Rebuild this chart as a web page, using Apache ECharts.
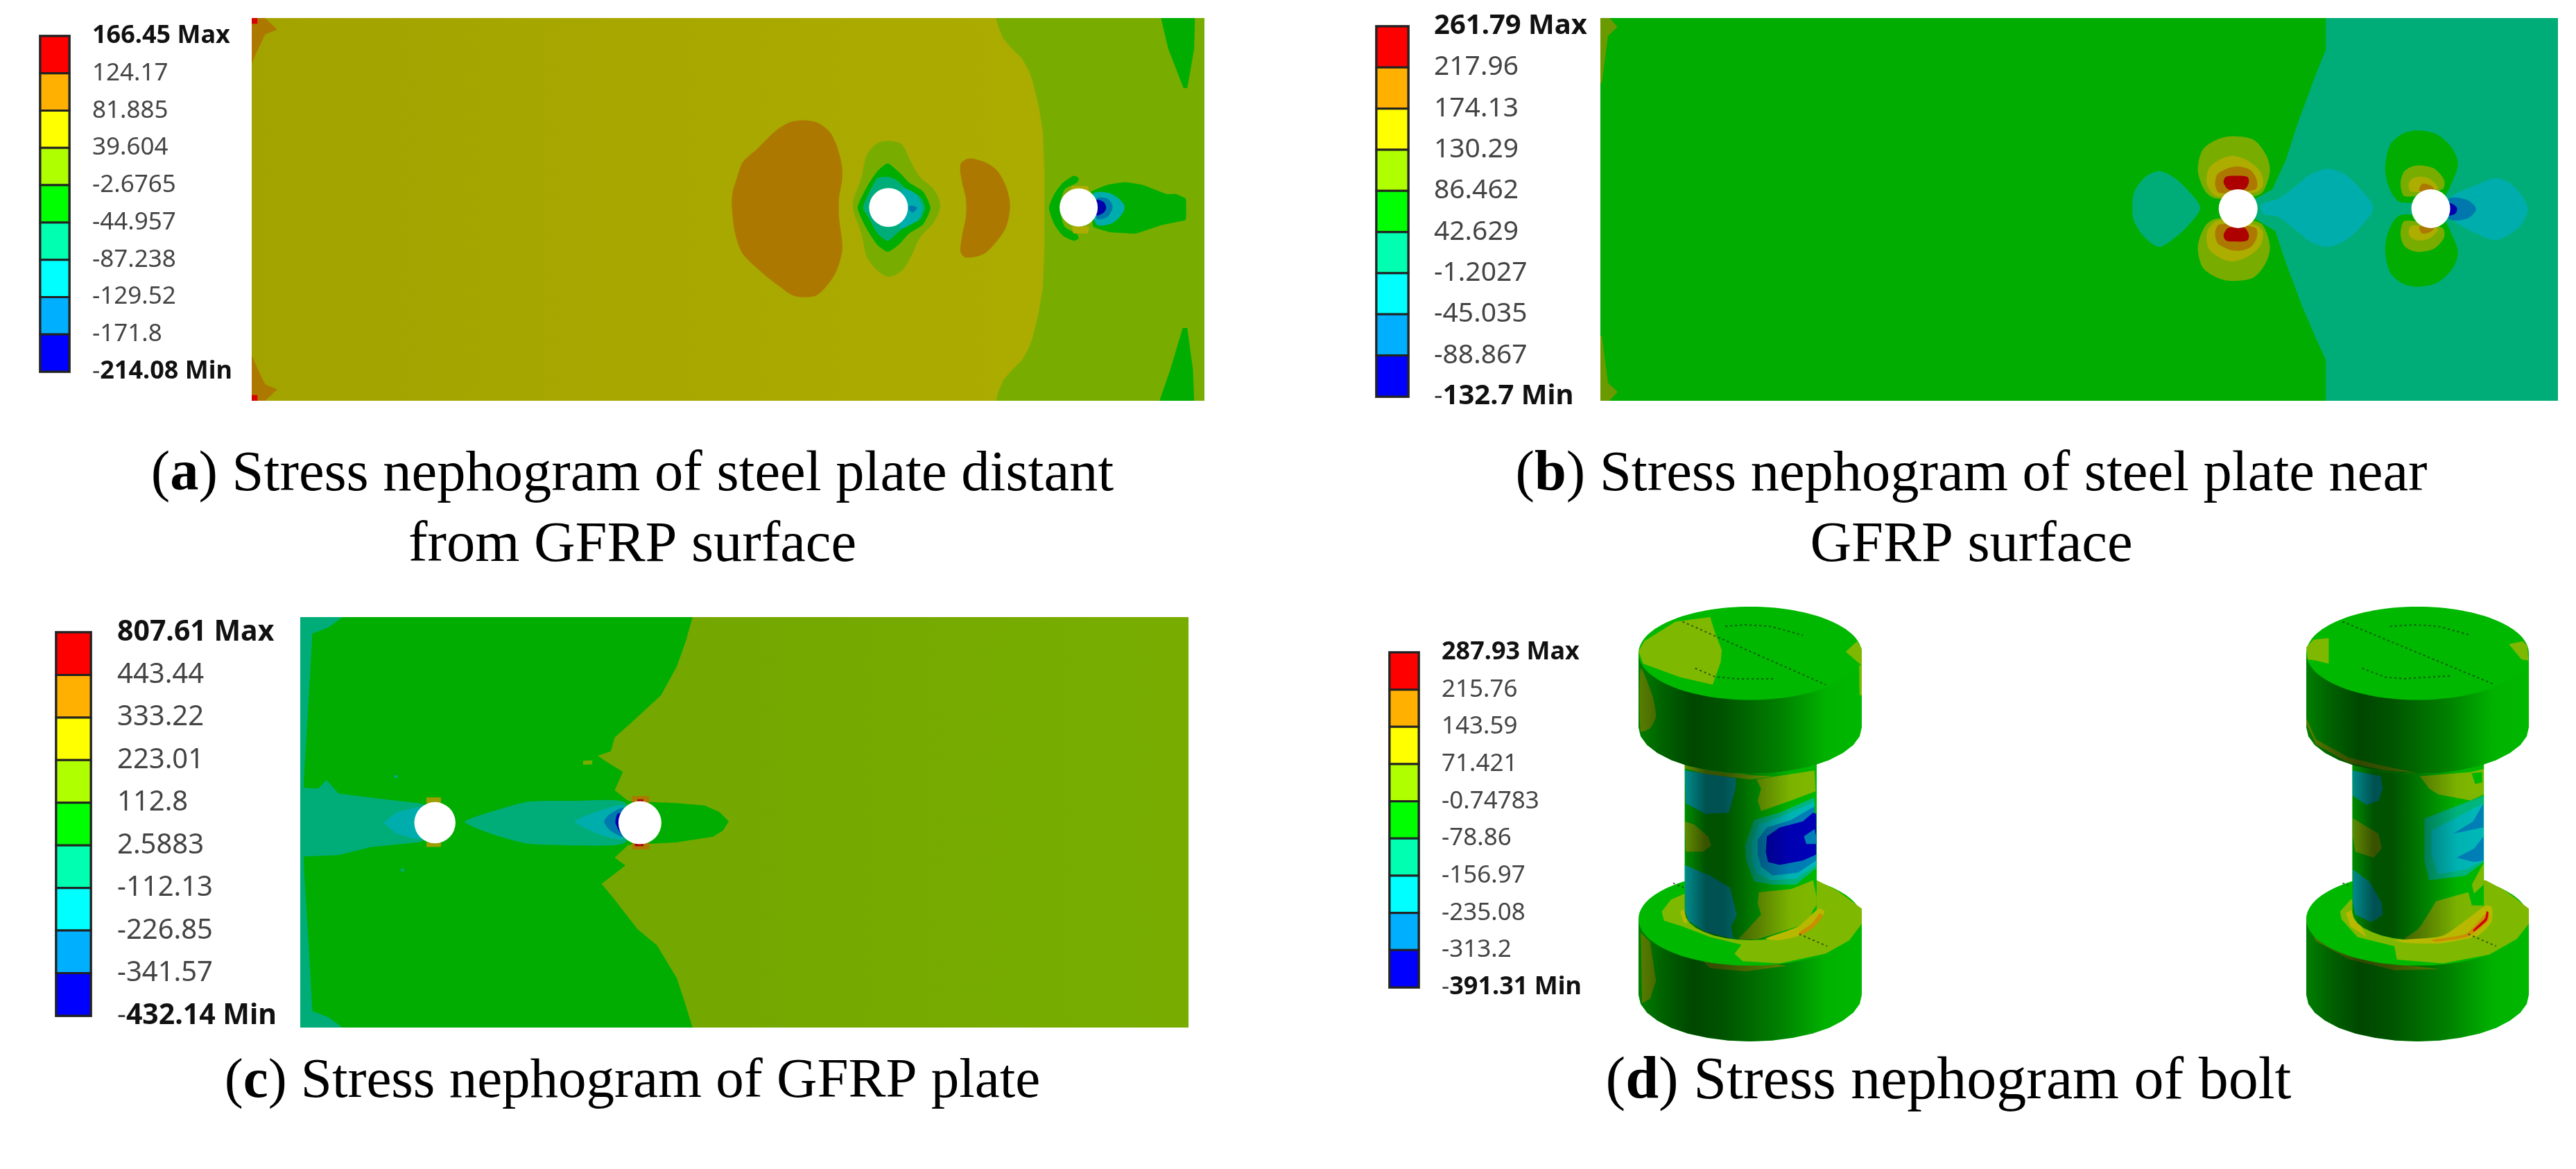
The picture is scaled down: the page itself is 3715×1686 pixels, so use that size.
<!DOCTYPE html>
<html>
<head>
<meta charset="utf-8">
<title>Stress nephograms</title>
<script src="https://cdn.jsdelivr.net/npm/echarts@6/dist/echarts.min.js"></script>
<style>
  html, body { margin: 0; padding: 0; background: #fff; }
  #chart { width: 3715px; height: 1686px; }
</style>
</head>
<body>
<div id="chart"></div>
<script>
// legend bands, top to bottom
const bandNames = ['red', 'orange', 'yellow', 'lime', 'green', 'teal', 'cyan', 'sky', 'blue'];
const bandRgb = {
  red: [255, 0, 0], orange: [255, 176, 0], yellow: [255, 255, 0], lime: [176, 255, 0], green: [0, 255, 0],
  teal: [0, 255, 176], cyan: [0, 255, 255], sky: [0, 176, 255], blue: [0, 0, 255]
};

// legend tick labels
const ticksA = ['166.45 Max', '124.17', '81.885', '39.604', '-2.6765', '-44.957', '-87.238', '-129.52', '-171.8', '-214.08 Min'];
const ticksB = ['261.79 Max', '217.96', '174.13', '130.29', '86.462', '42.629', '-1.2027', '-45.035', '-88.867', '-132.7 Min'];
const ticksC = ['807.61 Max', '443.44', '333.22', '223.01', '112.8', '2.5883', '-112.13', '-226.85', '-341.57', '-432.14 Min'];
const ticksD = ['287.93 Max', '215.76', '143.59', '71.421', '-0.74783', '-78.86', '-156.97', '-235.08', '-313.2', '-391.31 Min'];

// contour outlines on the plates, plate is 250 x 100
const plate = [[0, 0], [250, 0], [250, 100], [0, 100]];

// (a) steel plate distant from GFRP surface
const aRightLime = [[195.3, 0], [196, 2.5], [197.2, 5.4], [199.5, 8], [202, 10.4], [203.8, 13.5], [205, 16.8], [206.5, 23], [207.6, 29.7], [208, 40], [208, 60], [207.6, 70.3], [206.5, 77], [205, 83.2], [203.8, 86.5], [202, 89.6], [199.5, 92], [197.2, 94.6], [196, 97.5], [195.3, 100], [250, 100], [250, 0]];
const aTipTop = [[238.6, 0], [247.5, 0], [247.3, 8], [245.5, 18.3], [244.5, 18.3], [240.5, 8]];
const aTipBottom = [[238.2, 100], [247.3, 100], [247, 92], [245.5, 81], [244.3, 81], [241, 92]];
const aCornerTop = [[0, 0], [3.5, 0], [6.7, 3], [3.5, 4.3], [0.8, 10], [0, 12]];
const aCornerBottom = [[0, 100], [3.5, 100], [6.7, 97], [3.5, 95.7], [0.8, 90], [0, 88]];
const aRedTop = [[0, 0], [1.5, 0], [1.5, 1.5], [0, 1.5]];
const aRedBottom = [[0, 100], [1.5, 100], [1.5, 98.5], [0, 98.5]];
const aLobeBig = [[144.7, 26.7], [148.4, 27.3], [151.6, 29.7], [153.5, 33.3], [154.9, 38.8], [154.9, 42.4], [154.1, 47.2], [154.1, 52], [154.9, 58.1], [154.9, 61.1], [153.5, 66], [151.2, 69.6], [147.9, 72.6], [142.3, 72.6], [138.2, 69.9], [134, 66.6], [128.9, 61.7], [127, 56.9], [126.1, 50.8], [126.1, 46], [127.5, 41.2], [128.9, 37.6], [132.6, 34.2], [137.2, 29.7], [141, 27.3]];
const aLobeSmall = [[188.3, 36.7], [192.9, 37.9], [195.7, 40], [198, 44.2], [199, 49], [198, 54.5], [195.7, 58.1], [192, 61.7], [187.4, 62.6], [186, 61.1], [186.4, 56.9], [187.4, 52], [187.4, 47.2], [186.4, 43], [186, 38.2]];
const aHole1Lime = [[167.4, 32.1], [170.6, 33], [173, 37.6], [175.3, 41.5], [179, 44.8], [180.7, 49], [179, 53.3], [175.3, 57.5], [173, 62.3], [170.6, 66], [167.2, 67.6], [164.2, 66], [161.4, 62.3], [160, 56.3], [157.7, 49], [160, 41.8], [161.4, 35.8], [164.2, 32.7]];
const aHole1Green = [[166.9, 38], [170.2, 40.6], [172.5, 43], [176.2, 45.4], [178.1, 49.6], [176.2, 53.9], [172.5, 56.3], [169.7, 59.3], [166.9, 61.1], [164.2, 59.3], [161.4, 55.1], [159, 49.6], [161.4, 44.2], [164.2, 40]];
const aHole1Teal = [[164.2, 41.8], [166.9, 41.5], [169.3, 42.4], [171.6, 44.5], [175.3, 46.6], [176.7, 49.6], [175.3, 52.7], [171.6, 54.5], [169.3, 56.3], [166.9, 58.2], [164.2, 56.3], [161.8, 52], [160.4, 49.6], [161.8, 46]];
const aHole1Cyan = [[170.6, 44.8], [173.9, 45.7], [175.8, 49], [175.3, 52], [172.5, 54.2], [170.2, 54.8]];
const aHole1Sky = [[173, 49], [174.6, 49.6], [173.4, 50.8], [172.3, 49.6]];
const aHole2Crescent = [[215.7, 41.2], [217, 41.8], [216.6, 43], [213.3, 44.8], [212, 49.6], [213.3, 54.5], [216.6, 56.5], [217, 57.6], [215.7, 58.2], [212.9, 56.9], [210.6, 53.9], [209.2, 49.6], [210.6, 46], [212.9, 43]];
const aHole2Tail = [[220.3, 45.4], [224.5, 43.6], [229.1, 42.9], [233.8, 43.6], [240.2, 46], [242.6, 46], [245.1, 47.2], [245.1, 52.7], [242.6, 53.3], [238.4, 54.2], [231.9, 56.3], [225.4, 56], [220.8, 54.5]];
const aHole2Cyan = [[220.8, 46], [225.4, 45.9], [229.1, 49.3], [226.3, 53.3], [221.7, 53.9]];
const aHole2Sky = [[221.7, 47.2], [224.5, 47.2], [225.9, 49.3], [224.5, 52], [221.7, 52.4]];
const aHole2Blue = [[221.7, 47.5], [223.6, 48.1], [224.2, 49.6], [223.6, 50.8], [221.7, 51.5]];
const aHole2CapTop = [[215.2, 43.9], [219.4, 43.9], [219.8, 45.4], [214.8, 45.4]];
const aHole2CapBottom = [[215.2, 54.5], [219.8, 54.5], [219.4, 56.3], [215.6, 56.3]];
const aHoles = [[167.1, 49.5], [217, 49.5]];

// (b) steel plate near GFRP surface
const bRightTeal = [[189.4, 0], [189.4, 8.2], [186.8, 14.7], [181.9, 27.9], [179, 37], [175.4, 44.8], [170, 47.8], [170, 51.8], [176.2, 55.7], [179, 64.1], [183.1, 75], [186.5, 83], [189.4, 89.3], [189.4, 100], [250, 100], [250, 0]];
const bCornerTop = [[0, 0], [2.4, 0], [4.5, 2.3], [2, 4.7], [0.4, 17], [0, 17]];
const bCornerBottom = [[0, 100], [2.4, 100], [4.5, 97.7], [2, 95.3], [0.4, 83], [0, 83]];
const bLobeLeft = [[145.9, 40], [149.5, 41.5], [153.2, 44.8], [156.6, 49.6], [153.2, 54.5], [149.5, 57.8], [145.9, 59.8], [142.3, 57.5], [139.4, 53.3], [138.9, 49.6], [139.4, 45.4], [142.3, 41.5]];
const bLobeMid = [[189.9, 39.4], [194, 40.6], [198, 44.2], [201.7, 49.6], [198, 55.1], [194, 58.4], [189.9, 59.8], [185.9, 58.7], [181.9, 55.7], [177, 52], [173, 51.2], [172.6, 48.7], [177, 47.2], [181.9, 43.6], [185.9, 40.6]];
const bLobeRight = [[234, 41.9], [238.4, 43.9], [242.1, 49.6], [240, 54.5], [234, 58], [228.7, 56.3], [221.5, 51.8], [221.5, 47.2], [228.7, 43.6]];
const bH1LimeUp = [[164.9, 30.9], [170.5, 31.8], [173.8, 35.8], [174.8, 40], [173, 45.4], [170.5, 46.6], [160.9, 47.2], [158, 45.4], [156, 40], [157.2, 34.5], [160.9, 31.8]];
const bH1YellowUp = [[164.9, 36], [168.5, 37], [172.2, 40], [173, 43.6], [171.4, 45.4], [167.3, 46], [160.9, 46.6], [158.4, 43.6], [158.8, 39.4], [161.7, 37]];
const bH1OrangeUp = [[165.7, 38.8], [169.7, 39.7], [171.4, 42.4], [171, 44.8], [161.7, 45.7], [160.5, 43.6], [161.3, 40.6]];
const bH1RedUp = [[165.7, 41.2], [168.9, 41.5], [169.3, 43], [168.1, 44.8], [164, 44.8], [162.7, 43], [163.3, 41.5]];
const bH1LimeDown = [[164.9, 68.7], [170.5, 67.8], [173.8, 63.8], [174.8, 59.6], [173, 54.2], [170.5, 53], [160.9, 52.4], [158, 54.2], [156, 59.6], [157.2, 65.1], [160.9, 67.8]];
const bH1YellowDown = [[164.9, 63.6], [168.5, 62.6], [172.2, 59.6], [173, 56], [171.4, 54.2], [167.3, 53.6], [160.9, 53], [158.4, 56], [158.8, 60.2], [161.7, 62.6]];
const bH1OrangeDown = [[165.7, 60.8], [169.7, 59.9], [171.4, 57.2], [171, 54.8], [161.7, 53.9], [160.5, 56], [161.3, 59]];
const bH1RedDown = [[165.7, 58.4], [168.9, 58.1], [169.3, 56.6], [168.1, 54.8], [164, 54.8], [162.7, 56.6], [163.3, 58.1]];
const bH2GreenUp = [[213, 29.4], [218.2, 30.3], [222.3, 33.9], [223.9, 38.2], [222.3, 43], [219.8, 47], [208.9, 48.1], [206.1, 44.8], [204.9, 39.4], [206.1, 33.3], [209.3, 30.3]];
const bH2LimeUp = [[214.2, 38.5], [217.8, 39.4], [220.3, 42.4], [219.8, 44.8], [210.1, 46.6], [208.9, 43.6], [209.7, 40.3], [211.8, 38.8]];
const bH2YellowUp = [[213.8, 41.5], [216.6, 42.1], [218.6, 44.5], [211.8, 45.4], [211, 43.6], [211.8, 42.1]];
const bH2OrangeUp = [[214.6, 43.3], [217, 43.9], [217.8, 45.1], [213.8, 45.1]];
const bH2GreenDown = [[213, 70.2], [218.2, 69.3], [222.3, 65.7], [223.9, 61.4], [222.3, 56.6], [219.8, 52.6], [208.9, 51.5], [206.1, 54.8], [204.9, 60.2], [206.1, 66.3], [209.3, 69.3]];
const bH2LimeDown = [[214.2, 61.1], [217.8, 60.2], [220.3, 57.2], [219.8, 54.8], [210.1, 53], [208.9, 56], [209.7, 59.3], [211.8, 60.8]];
const bH2YellowDown = [[213.8, 58.1], [216.6, 57.5], [218.6, 55.1], [211.8, 54.2], [211, 56], [211.8, 57.5]];
const bH2OrangeDown = [[214.6, 56.3], [217, 55.7], [217.8, 54.5], [213.8, 54.5]];
const bH2Sky = [[221.5, 47.2], [226.3, 47.5], [228.6, 49.9], [226.3, 52.4], [221.5, 52.5]];
const bH2Blue = [[221.5, 48.4], [223.1, 49], [223.7, 49.9], [223.1, 51.2], [221.5, 51.5]];
const bHoles = [[166.5, 49.8], [216.8, 49.8]];

// (c) GFRP plate
const cGreen = [[0, 0], [110.4, 0], [108.6, 5.6], [106, 12], [101.5, 19.1], [93.7, 25.3], [88.5, 29.3], [87.4, 32.7], [83.7, 33.8], [86.7, 35.5], [90.8, 37.7], [88.5, 42.2], [92.3, 44.8], [105.7, 45.3], [113.9, 45.9], [118, 47.5], [120.6, 49.8], [119, 52], [116.2, 53.5], [105.7, 54.9], [92.3, 55.5], [88.5, 58.6], [91.5, 60.5], [84.8, 65], [87.8, 68.1], [94.9, 76], [100.4, 80], [106, 88], [108.2, 93.8], [110.4, 100], [0, 100]];
const cStrip = [[0, 0], [11.9, 0], [8, 2.5], [3.4, 4], [2.7, 15], [1, 40], [1, 60], [2.7, 85], [3.4, 96], [8, 97.5], [11.9, 100], [0, 100]];
const cWedge = [[0, 41.5], [5, 41.8], [7.4, 39.7], [10.8, 43], [20, 44], [33.2, 45.3], [36, 46], [36, 54], [33.2, 54.9], [20, 56], [10.8, 58], [5, 58.2], [0, 58.3]];
const cWedgeCyan = [[32.1, 46.5], [27, 47.6], [23.5, 50.1], [27, 52.7], [32.1, 54], [36, 54], [36, 46]];
const cLens = [[46.3, 49.9], [54.2, 47.3], [63.9, 45], [76.6, 44.8], [91.5, 45.2], [91.5, 54.9], [76.6, 55.6], [63.9, 55.2], [54.2, 52.9]];
const cLensCyan = [[90.8, 45.9], [84, 47.3], [77.3, 49.8], [84, 52.9], [90.8, 54]];
const cLensSky = [[90.8, 46.5], [87, 48.1], [85.5, 49.8], [87, 51.8], [90.8, 53.5]];
const cLensBlue = [[89.3, 47.9], [88.7, 50.1], [90, 52.4], [91.1, 52.4], [91.1, 47.9]];
const cH2CapTop = [[93.4, 43.6], [98.2, 43.6], [98.2, 45.5], [93.4, 45.5]];
const cH2RedTop = [[94.9, 44.4], [96.6, 44.4], [96.6, 45.5], [94.9, 45.5]];
const cH2CapBottom = [[93.4, 55], [98.2, 55], [98.2, 56.6], [93.4, 56.6]];
const cH2RedBottom = [[94.2, 55], [96.6, 55], [96.6, 55.8], [94.2, 55.8]];
const cH1CapTop = [[35.5, 43.9], [39.6, 43.9], [39.6, 45.4], [35.5, 45.4]];
const cH1CapBottom = [[35.5, 54.9], [39.6, 54.9], [39.6, 56], [35.5, 56]];
const cSpeck1 = [[79.6, 35], [82.2, 34.9], [82.2, 35.9], [79.6, 36]];
const cSpeck2 = [[26.4, 38.5], [27.4, 38.5], [27.4, 39.2], [26.4, 39.2]];
const cSpeck3 = [[28.3, 61.3], [29.3, 61.3], [29.3, 62], [28.3, 62]];
const cHoles = [[37.9, 50.1], [95.6, 50.1]];

// (d) bolts, head width is 100
const headSideUpper = [[0, 20.9], [100, 20.9], [100, 54], [99.05, 58.1], [96.2, 62], [91.55, 65.6], [85.35, 68.8], [77.8, 71.4], [69.15, 73.3], [59.75, 74.5], [50, 74.9], [40.25, 74.5], [30.85, 73.3], [22.2, 71.4], [14.65, 68.8], [8.45, 65.6], [3.8, 62], [0.95, 58.1], [0, 54]];
const headSideLower = [[0, 140], [100, 140], [100, 174], [99.05, 178.1], [96.2, 182], [91.55, 185.6], [85.35, 188.8], [77.8, 191.4], [69.15, 193.3], [59.75, 194.5], [50, 194.9], [40.25, 194.5], [30.85, 193.3], [22.2, 191.4], [14.65, 188.8], [8.45, 185.6], [3.8, 182], [0.95, 178.1], [0, 174]];
const shank = [[20.7, 60], [79.8, 60], [79.8, 137], [79.2, 139.4], [77.55, 141.8], [74.8, 144], [71.1, 145.8], [66.7, 147.4], [61.55, 148.6], [56, 149.3], [50.25, 149.5], [44.5, 149.3], [38.95, 148.6], [33.8, 147.4], [29.35, 145.8], [25.7, 144], [22.95, 141.8], [21.3, 139.4], [20.7, 137]];
const faceUpper = [50, 20.9, 50, 20.9];
const faceLower = [50, 140, 50, 20.9];

const d1FaceLimeLeft = [[0, 20], [2.6, 15.5], [16.6, 6.7], [32.1, 4.7], [34.2, 11.4], [37.3, 19.5], [36.8, 24.9], [33.2, 35], [18.7, 31.6], [2.1, 25.6]];
const d1FaceLimeRight = [[97.9, 15.5], [100, 18.9], [100, 26.3], [99, 25.6], [92.8, 20.2]];
const d1HeadEdgeRight = [[98.8, 26.3], [100, 26.3], [100, 39.7], [99, 39.7]];
const d1HeadPatch = [[1, 27.6], [6.2, 39.7], [7.8, 49.2], [5.2, 54.5], [1, 55.9]];
const d1Slot = [[19.7, 6.7], [83.9, 35]];
const d1ArcTop = [[38.9, 8.8], [47.6, 8.1], [59, 8.8], [73.6, 12.8]];
const d1ArcBottom = [[25.4, 27.6], [34.2, 31.4], [43.5, 32.3], [61.1, 32.3]];
const d1ShankTopLeft = [[20.7, 73.4], [43.5, 76.8], [43.5, 81.5], [40.4, 92.3], [30, 92.9], [21.2, 88.2]];
const d1ShankBottomLeft = [[20.7, 115.8], [32.1, 120.6], [41, 126], [44, 138], [41.5, 143.4], [42.5, 149], [30, 145.8], [22.5, 141], [20.9, 136.7]];
const d1ShankMidLeft = [[20.7, 96.3], [24.9, 97.6], [31.1, 103], [32.6, 107], [29, 109.8], [21.2, 109.8]];
const d1ShankTopRight = [[52.8, 77.4], [78.8, 73.4], [79.3, 82.8], [68.4, 86.9], [54.9, 91.6], [53.4, 86.9], [54.9, 81.5]];
const d1ShankStrip = [[20.7, 70], [30, 72], [50, 75.5], [60, 76], [50, 77.5], [30, 75], [20.7, 72.5]];
const d1RingTeal = [[47.7, 107], [51.8, 95.6], [63.2, 92.3], [78.8, 85.5], [79.6, 117.2], [70.5, 124.6], [60.1, 124.6], [51.8, 123.2], [48.2, 113.8]];
const d1RingCyan = [[50.8, 105.7], [53.9, 97.6], [63.2, 94.3], [78.8, 87.5], [79.6, 115.8], [70.5, 121.9], [59.1, 122.6], [52.8, 119.2], [50.8, 113.8]];
const d1RingSky = [[53.4, 104.4], [57.5, 99], [68.4, 95.6], [78.8, 89.6], [79.6, 113.8], [71.5, 119.2], [60, 120.5], [54.9, 116.5], [53.4, 111.1]];
const d1Core = [[57.5, 103], [63.2, 99], [73.6, 96.3], [78.2, 92.3], [79.6, 92.9], [79.6, 111.1], [73.6, 113.8], [63.2, 115.8], [58, 114.5], [57, 109.8]];
const d1CoreNotch = [[74.1, 103], [78.8, 99.7], [79.6, 103], [79.6, 106.4], [75.1, 106.4]];
const d1ShankBottomRight = [[53.9, 128], [68.4, 126.6], [78.2, 122.6], [79.7, 130], [79.7, 133.9], [78.2, 136], [75.6, 142], [52.8, 149.2], [44.6, 149.2], [54.9, 138], [53.4, 133]];
const d1CrackYellow = [[57, 148.8], [71.5, 143.4], [80.8, 135.3], [83.4, 136.7], [79.8, 142], [71.5, 147.6], [63.2, 149.5]];
const d1CrackOrange = [[72, 146.1], [77.7, 142], [81.3, 137.4], [82.4, 138.7], [78.8, 143.4], [72.5, 147.5]];
const d1LowerFaceLime = [[79.8, 122.6], [89.1, 127.3], [100, 135.4], [100, 142.1], [94.3, 149.7], [83.9, 155.5], [63.2, 159.9], [46.6, 158.9], [43, 155.6], [46.1, 151.5], [32.1, 148.1], [19.7, 143.4], [11.4, 140.7], [10.4, 136.7], [14.5, 131.3], [20.7, 128.6]];
const d1LowerFaceYellow = [[18.7, 136.7], [21.2, 135.4], [21.8, 142.1], [20.2, 141.4]];
const d1LowerStrip = [[24.9, 155], [32, 162], [48, 163.5], [66.3, 161], [48, 158], [32, 155]];
const d1LowerPatch = [[1, 146.1], [5.2, 150.2], [7.8, 167.7], [5.2, 175.8], [1.6, 177.8]];
const d1DashLower = [[72, 146.8], [84.5, 152.2]];
const d1DashLeft = [[15.5, 123.9], [20.2, 125.9]];

const d2FaceLimeLeft = [[0, 18.2], [3.3, 14.8], [10.1, 14.1], [10.1, 25.6], [4.4, 24.2], [0.7, 23.6]];
const d2FaceLimeRight = [[91, 16.8], [97.2, 15.5], [99.3, 17.5], [99.8, 24.2], [96.7, 23.6]];
const d2HeadStrip = [[0, 52.5], [4.4, 61.8], [19, 70], [35, 73.3], [50, 74.6], [35, 71.5], [19, 67.5], [4.4, 59.5], [0, 50]];
const d2Slot = [[16.3, 6.7], [84.8, 35]];
const d2ArcTop = [[37.6, 8.8], [49, 8.1], [59.3, 8.8], [73.9, 12.8]];
const d2ArcBottom = [[25.1, 27.6], [35.5, 31.6], [43.8, 32.3], [64.5, 31]];
const d2ShankTopLeft = [[20.7, 73.4], [33.4, 76], [34.4, 81.5], [32.4, 86.9], [27.2, 88.9], [20.9, 84.8]];
const d2ShankBottomLeft = [[21, 117.8], [28.2, 123.2], [33.9, 132.7], [34.4, 138], [29.3, 141.4], [22, 138], [20.9, 132.7]];
const d2ShankMidLeft = [[21, 94.9], [32.4, 101.7], [33.9, 108.4], [30.3, 112.5], [22, 109.8], [20.9, 103]];
const d2ShankTopRight = [[51, 76], [73.9, 74.1], [79.7, 72.7], [79.7, 84.2], [73.9, 86.9], [59.3, 84.2], [55.2, 81.5]];
const d2ShankTopGreen = [[74.3, 74.7], [79, 74.1], [79, 78.8], [75.9, 79.5]];
const d2PatchTeal = [[53.1, 95], [79.6, 84.8], [79.7, 114.5], [71.8, 120.5], [55.2, 122.6], [53.1, 113.8]];
const d2PatchCyan = [[56.2, 100.3], [79.6, 88.2], [79.7, 113.8], [71.8, 117.8], [59.3, 119.9], [56.2, 111.1]];
const d2StreakTop = [[66.1, 101.7], [74.9, 96.3], [79.6, 88.2], [79.6, 98.9], [72.9, 100.3]];
const d2StreakBottom = [[67.6, 112.5], [75.4, 108.4], [79.7, 103], [79.7, 113.8], [75.4, 114.5]];
const d2ShankBottomRight = [[52.1, 142.1], [58.3, 132], [72.8, 128], [74.4, 133.9], [79.7, 134], [79.7, 137.5], [76, 143], [66.6, 147], [50, 149.3], [44, 148.9], [50, 144.8]];
const d2ShankLimeSmall = [[74.4, 124.6], [79.6, 115.1], [79.7, 124.6], [75.4, 128.6]];
const d2LowerFaceLime = [[80.6, 122.6], [89.4, 127.3], [100, 135.4], [100, 142.1], [94.6, 149], [82.2, 156], [61.4, 159.9], [40.7, 158.2], [39.6, 152.2], [23, 148.1], [15.8, 140.1], [15.2, 136.7], [19.9, 131.3]];
const d2RingLeft = [[17.8, 137.4], [19.9, 143.4], [27.2, 148.1], [20.5, 136]];
const d2RingYellow = [[39.6, 149.5], [61.4, 147.5], [80.6, 134], [83.4, 134.7], [83.2, 141.4], [77, 147.5], [61.4, 150.8], [46, 150.8]];
const d2RingOrange = [[56.2, 149.5], [71.8, 146.6], [80.6, 137.7], [82.2, 137.2], [81.6, 141], [72.8, 147.8], [58.3, 150.2]];
const d2RingRed = [[74.9, 145], [80.3, 139.8], [81.1, 136.5], [81.8, 137], [81.1, 140.6], [75.4, 145.6]];
const d2LowerStrip = [[0, 141], [4.4, 150], [19, 158], [40, 163], [60, 162.5], [40, 160], [19, 155], [4.4, 147], [0, 138]];
const d2DashLower = [[72.8, 146.8], [85.3, 152.2]];
const d2DashLeft = [[16.3, 123.9], [18.9, 125]];

// shading across the cylinders, black alpha from left to right
const headShade = [[0, 0.5], [0.11, 0.62], [0.24, 0.72], [0.37, 0.68], [0.63, 0.5], [0.84, 0.3], [1, 0.28]];
const shankShade = [[0, 0.45], [0.16, 0.68], [0.3, 0.68], [0.55, 0.5], [0.8, 0.3], [1, 0.28]];

const PLATE = 0.68; // lighting of the flat plates
const FACE = 0.72; // lighting of the bolt end faces

const regionsA = [
  ['grad', 'yellow', [0.64, 0.68], plate],
  ['poly', 'lime', PLATE, aRightLime, 0],
  ['poly', 'green', PLATE, aTipTop, 0],
  ['poly', 'green', PLATE, aTipBottom, 0],
  ['poly', 'orange', PLATE, aCornerTop, 0],
  ['poly', 'orange', PLATE, aCornerBottom, 0],
  ['poly', 'red', 0.85, aRedTop, 0],
  ['poly', 'red', 0.85, aRedBottom, 0],
  ['poly', 'orange', PLATE, aLobeBig, 0.3],
  ['poly', 'orange', PLATE, aLobeSmall, 0.3],
  ['poly', 'lime', PLATE, aHole1Lime, 0.3],
  ['poly', 'green', PLATE, aHole1Green, 0.2],
  ['poly', 'teal', PLATE, aHole1Teal, 0.2],
  ['poly', 'cyan', PLATE, aHole1Cyan, 0.3],
  ['poly', 'sky', PLATE, aHole1Sky, 0.3],
  ['poly', 'green', PLATE, aHole2Crescent, 0.2],
  ['poly', 'green', PLATE, aHole2Tail, 0.1],
  ['poly', 'yellow', PLATE, aHole2CapTop, 0],
  ['poly', 'yellow', PLATE, aHole2CapBottom, 0],
  ['poly', 'cyan', PLATE, aHole2Cyan, 0.3],
  ['poly', 'sky', PLATE, aHole2Sky, 0.3],
  ['poly', 'blue', PLATE, aHole2Blue, 0.3],
  ['hole', aHoles[0], 5.1],
  ['hole', aHoles[1], 5]
];

const regionsB = [
  ['poly', 'green', PLATE, plate, 0],
  ['poly', 'teal', PLATE, bRightTeal, 0],
  ['poly', 'lime', 0.6, bCornerTop, 0],
  ['poly', 'lime', 0.6, bCornerBottom, 0],
  ['poly', 'teal', PLATE, bLobeLeft, 0.3],
  ['poly', 'cyan', PLATE, bLobeMid, 0.3],
  ['poly', 'cyan', PLATE, bLobeRight, 0.3],
  ['poly', 'lime', PLATE, bH1LimeUp, 0.3],
  ['poly', 'yellow', PLATE, bH1YellowUp, 0.3],
  ['poly', 'orange', PLATE, bH1OrangeUp, 0.3],
  ['poly', 'red', PLATE, bH1RedUp, 0.3],
  ['poly', 'lime', PLATE, bH1LimeDown, 0.3],
  ['poly', 'yellow', PLATE, bH1YellowDown, 0.3],
  ['poly', 'orange', PLATE, bH1OrangeDown, 0.3],
  ['poly', 'red', PLATE, bH1RedDown, 0.3],
  ['poly', 'green', PLATE, bH2GreenUp, 0.3],
  ['poly', 'lime', PLATE, bH2LimeUp, 0.3],
  ['poly', 'yellow', PLATE, bH2YellowUp, 0.3],
  ['poly', 'orange', PLATE, bH2OrangeUp, 0.3],
  ['poly', 'green', PLATE, bH2GreenDown, 0.3],
  ['poly', 'lime', PLATE, bH2LimeDown, 0.3],
  ['poly', 'yellow', PLATE, bH2YellowDown, 0.3],
  ['poly', 'orange', PLATE, bH2OrangeDown, 0.3],
  ['poly', 'sky', PLATE, bH2Sky, 0.3],
  ['poly', 'blue', PLATE, bH2Blue, 0.3],
  ['hole', bHoles[0], 5.07],
  ['hole', bHoles[1], 5.07]
];

const regionsC = [
  ['grad', 'lime', [0.64, 0.68], plate],
  ['poly', 'green', PLATE, cGreen, 0],
  ['poly', 'teal', PLATE, cStrip, 0],
  ['poly', 'teal', PLATE, cWedge, 0],
  ['poly', 'cyan', PLATE, cWedgeCyan, 0],
  ['poly', 'teal', PLATE, cLens, 0.2],
  ['poly', 'cyan', PLATE, cLensCyan, 0.2],
  ['poly', 'sky', PLATE, cLensSky, 0.2],
  ['poly', 'blue', PLATE, cLensBlue, 0.2],
  ['poly', 'orange', PLATE, cH2CapTop, 0],
  ['poly', 'red', PLATE, cH2RedTop, 0],
  ['poly', 'orange', PLATE, cH2CapBottom, 0],
  ['poly', 'red', PLATE, cH2RedBottom, 0],
  ['poly', 'yellow', 0.62, cH1CapTop, 0],
  ['poly', 'yellow', 0.62, cH1CapBottom, 0],
  ['poly', 'lime', PLATE, cSpeck1, 0],
  ['poly', 'teal', PLATE, cSpeck2, 0],
  ['poly', 'teal', PLATE, cSpeck3, 0],
  ['hole', cHoles[0], 5.8],
  ['hole', cHoles[1], 6.05]
];

const regionsD1 = [
  ['poly', 'green', 1, headSideLower, 0],
  ['poly', 'lime', 1, d1LowerStrip, 0],
  ['poly', 'lime', 1, d1LowerPatch, 0],
  ['shade', headShade, headSideLower],
  ['oval', 'green', FACE, faceLower],
  ['poly', 'lime', FACE, d1LowerFaceLime, 0],
  ['poly', 'yellow', FACE, d1LowerFaceYellow, 0],
  ['poly', 'green', 1, shank, 0],
  ['poly', 'cyan', 1, d1ShankTopLeft, 0],
  ['poly', 'cyan', 1, d1ShankBottomLeft, 0],
  ['poly', 'lime', 1, d1ShankMidLeft, 0],
  ['poly', 'lime', 1, d1ShankTopRight, 0],
  ['poly', 'lime', 1, d1ShankBottomRight, 0],
  ['poly', 'teal', 1, d1RingTeal, 0],
  ['poly', 'cyan', 1, d1RingCyan, 0],
  ['poly', 'sky', 1, d1RingSky, 0],
  ['poly', 'blue', 1, d1Core, 0],
  ['poly', 'sky', 1, d1CoreNotch, 0],
  ['poly', 'lime', 1, d1ShankStrip, 0],
  ['shade', shankShade, shank],
  ['poly', 'yellow', 0.72, d1CrackYellow, 0.2],
  ['poly', 'orange', 0.8, d1CrackOrange, 0.2],
  ['poly', 'green', 1, headSideUpper, 0],
  ['poly', 'lime', 1, d1HeadPatch, 0.2],
  ['shade', headShade, headSideUpper],
  ['oval', 'green', FACE, faceUpper],
  ['poly', 'lime', FACE, d1FaceLimeLeft, 0],
  ['poly', 'lime', FACE, d1FaceLimeRight, 0],
  ['poly', 'lime', FACE, d1HeadEdgeRight, 0],
  ['dash', d1Slot],
  ['dash', d1ArcTop],
  ['dash', d1ArcBottom],
  ['dash', d1DashLower],
  ['dash', d1DashLeft]
];

const regionsD2 = [
  ['poly', 'green', 1, headSideLower, 0],
  ['poly', 'lime', 1, d2LowerStrip, 0],
  ['shade', headShade, headSideLower],
  ['oval', 'green', FACE, faceLower],
  ['poly', 'lime', FACE, d2LowerFaceLime, 0],
  ['poly', 'yellow', FACE, d2RingLeft, 0],
  ['poly', 'green', 1, shank, 0],
  ['poly', 'cyan', 1, d2ShankTopLeft, 0],
  ['poly', 'cyan', 1, d2ShankBottomLeft, 0],
  ['poly', 'lime', 1, d2ShankMidLeft, 0],
  ['poly', 'lime', 1, d2ShankTopRight, 0],
  ['poly', 'green', 1, d2ShankTopGreen, 0],
  ['poly', 'teal', 1, d2PatchTeal, 0],
  ['poly', 'cyan', 1, d2PatchCyan, 0],
  ['poly', 'sky', 1, d2StreakTop, 0],
  ['poly', 'sky', 1, d2StreakBottom, 0],
  ['poly', 'lime', 1, d2ShankBottomRight, 0],
  ['poly', 'lime', 1, d2ShankLimeSmall, 0],
  ['shade', shankShade, shank],
  ['poly', 'yellow', 0.72, d2RingYellow, 0.2],
  ['poly', 'orange', 0.8, d2RingOrange, 0.2],
  ['poly', 'red', 0.8, d2RingRed, 0.2],
  ['poly', 'green', 1, headSideUpper, 0],
  ['poly', 'lime', 1, d2HeadStrip, 0],
  ['shade', headShade, headSideUpper],
  ['oval', 'green', FACE, faceUpper],
  ['poly', 'lime', FACE, d2FaceLimeLeft, 0],
  ['poly', 'lime', FACE, d2FaceLimeRight, 0],
  ['dash', d2Slot],
  ['dash', d2ArcTop],
  ['dash', d2ArcBottom],
  ['dash', d2DashLower],
  ['dash', d2DashLeft]
];

// captions
const captions = [
  { text: '({b|a}) Stress nephogram of steel plate distant\nfrom GFRP surface', x: 907, y: 629, size: 82.5 },
  { text: '({b|b}) Stress nephogram of steel plate near\nGFRP surface', x: 2838, y: 629, size: 82.5 },
  { text: '({b|c}) Stress nephogram of GFRP plate', x: 907, y: 1505, size: 81 },
  { text: '({b|d}) Stress nephogram of bolt', x: 2805, y: 1505, size: 86 }
];

const shadeColor = (band, k) => {
  const c = bandRgb[band];
  return 'rgb(' + Math.round(c[0] * k) + ',' + Math.round(c[1] * k) + ',' + Math.round(c[2] * k) + ')';
};

// draws one contour region through the axes of its grid
const renderRegion = (list) => (params, api) => {
  const r = list[api.value(0)];
  const kind = r[0];
  if (kind === 'hole') {
    const c = api.coord(r[1]);
    return { type: 'circle', shape: { cx: c[0], cy: c[1], r: api.size([r[2], 0])[0] }, style: { fill: '#fff' } };
  }
  if (kind === 'oval') {
    const c = api.coord([r[3][0], r[3][1]]);
    const s = api.size([r[3][2], r[3][3]]);
    return { type: 'ellipse', shape: { cx: c[0], cy: c[1], rx: s[0], ry: s[1] }, style: { fill: shadeColor(r[1], r[2]) } };
  }
  if (kind === 'dash') {
    return {
      type: 'polyline',
      shape: { points: r[1].map((p) => api.coord(p)) },
      style: { fill: null, stroke: 'rgba(20,50,10,0.7)', lineWidth: 2, lineDash: [3, 4] }
    };
  }
  if (kind === 'grad') {
    return {
      type: 'polygon',
      shape: { points: r[3].map((p) => api.coord(p)) },
      style: {
        fill: new echarts.graphic.LinearGradient(0, 0, 1, 0, [
          { offset: 0, color: shadeColor(r[1], r[2][0]) },
          { offset: 1, color: shadeColor(r[1], r[2][1]) }
        ])
      }
    };
  }
  if (kind === 'shade') {
    return {
      type: 'polygon',
      shape: { points: r[2].map((p) => api.coord(p)) },
      style: {
        fill: new echarts.graphic.LinearGradient(0, 0, 1, 0,
          r[1].map((s) => ({ offset: s[0], color: 'rgba(0,0,0,' + s[1] + ')' })))
      }
    };
  }
  return {
    type: 'polygon',
    shape: { points: r[3].map((p) => api.coord(p)), smooth: r[4] },
    style: { fill: shadeColor(r[1], r[2]) }
  };
};

// colour bar, one rectangle per band
const renderBand = (params, api) => {
  const i = api.value(0);
  const a = api.coord([0, i]);
  const b = api.coord([1, i + 1]);
  return {
    type: 'rect',
    shape: { x: a[0], y: a[1], width: b[0] - a[0], height: b[1] - a[1] },
    style: { fill: shadeColor(bandNames[i], 1), stroke: '#222', lineWidth: 3 }
  };
};

const plates = [
  { list: regionsA, rect: [363, 26, 1374, 552], xMax: 250, yMax: 100 },
  { list: regionsB, rect: [2308, 26, 1381, 552], xMax: 250, yMax: 100 },
  { list: regionsC, rect: [433, 890, 1281, 592], xMax: 250, yMax: 100 },
  { list: regionsD1, rect: [2363, 875, 322, 627], xMax: 100, yMax: 194.9 },
  { list: regionsD2, rect: [3326, 875, 321, 627], xMax: 100, yMax: 194.9 }
];

const legends = [
  { ticks: ticksA, rect: [58, 52, 42, 484], fontSize: 35, margin: 33 },
  { ticks: ticksB, rect: [1985, 38, 46, 534], fontSize: 39, margin: 37 },
  { ticks: ticksC, rect: [81, 912, 50, 553], fontSize: 40, margin: 38 },
  { ticks: ticksD, rect: [2004, 941, 42, 483], fontSize: 35, margin: 33 }
];

const grid = [];
const xAxis = [];
const yAxis = [];
const series = [];

plates.forEach((p) => {
  const idx = grid.length;
  grid.push({ left: p.rect[0], top: p.rect[1], width: p.rect[2], height: p.rect[3] });
  xAxis.push({ type: 'value', gridIndex: idx, min: 0, max: p.xMax, show: false });
  yAxis.push({ type: 'value', gridIndex: idx, min: 0, max: p.yMax, inverse: true, show: false });
  series.push({
    type: 'custom',
    xAxisIndex: idx,
    yAxisIndex: idx,
    silent: true,
    clip: false,
    renderItem: renderRegion(p.list),
    encode: { x: 0 },
    data: p.list.map((r, i) => [i])
  });
});

legends.forEach((l) => {
  const idx = grid.length;
  grid.push({
    left: l.rect[0], top: l.rect[1], width: l.rect[2], height: l.rect[3],
    show: true, borderColor: '#666', borderWidth: 4
  });
  xAxis.push({ type: 'value', gridIndex: idx, min: 0, max: 1, show: false });
  yAxis.push({
    type: 'value',
    gridIndex: idx,
    min: 0,
    max: 9,
    interval: 1,
    inverse: true,
    position: 'right',
    axisLine: { show: false },
    axisTick: { show: false },
    splitLine: { show: false },
    axisLabel: {
      margin: l.margin,
      align: 'left',
      fontFamily: 'Noto Sans',
      fontSize: l.fontSize,
      color: '#444',
      formatter: (v) => {
        const t = l.ticks[v];
        if (v === 0) return '{b|' + t + '}';
        if (v === 9) return '-{b|' + t.slice(1) + '}';
        return t;
      },
      rich: { b: { fontFamily: 'Noto Sans', fontSize: l.fontSize + 1, fontWeight: 'bold', color: '#111' } }
    }
  });
  series.push({
    type: 'custom',
    xAxisIndex: idx,
    yAxisIndex: idx,
    silent: true,
    renderItem: renderBand,
    encode: { x: 0 },
    data: bandNames.map((n, i) => [i])
  });
});

const title = captions.map((c) => ({
  text: c.text,
  left: c.x,
  top: c.y,
  textAlign: 'center',
  textStyle: {
    fontFamily: 'Liberation Serif',
    fontSize: c.size,
    fontWeight: 'normal',
    color: '#000',
    lineHeight: 102,
    rich: { b: { fontFamily: 'Liberation Serif', fontSize: c.size, fontWeight: 'bold', color: '#000', lineHeight: 102 } }
  }
}));

const chart = echarts.init(document.getElementById('chart'));
chart.setOption({
  animation: false,
  backgroundColor: '#fff',
  title: title,
  grid: grid,
  xAxis: xAxis,
  yAxis: yAxis,
  series: series
});
</script>
</body>
</html>
